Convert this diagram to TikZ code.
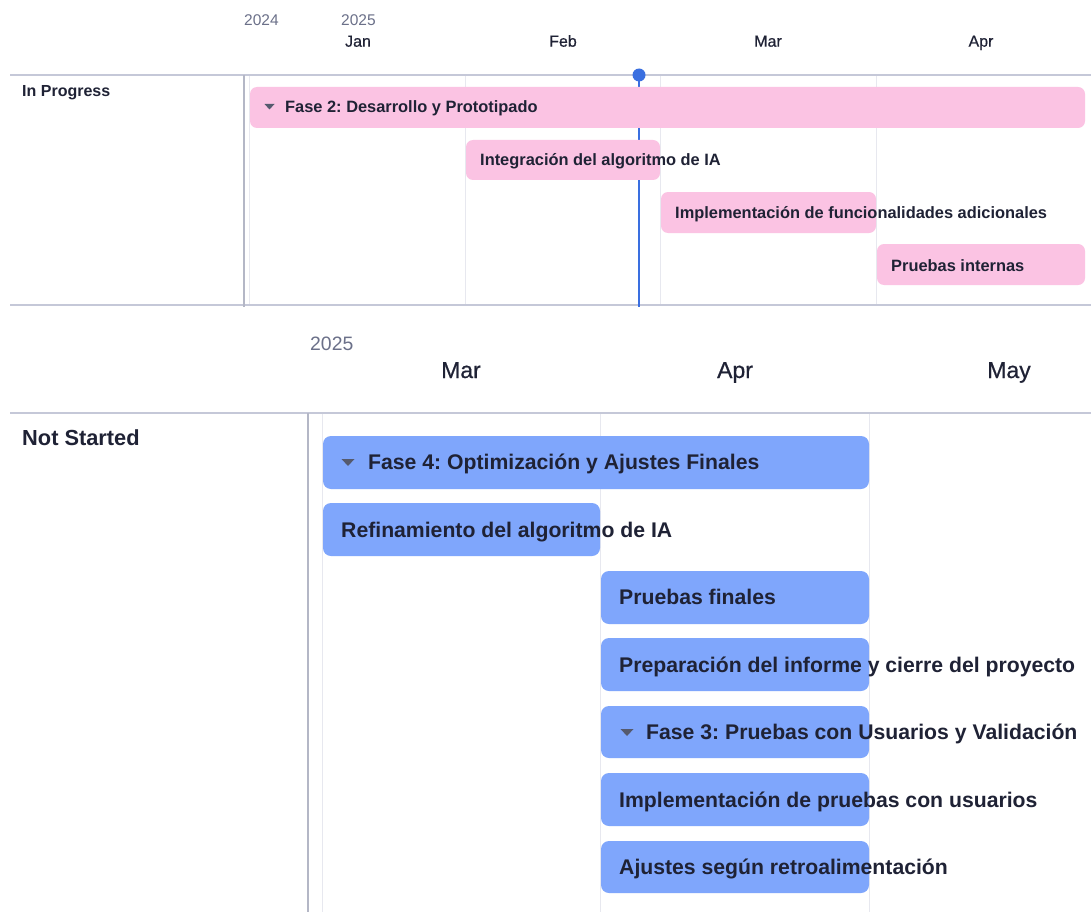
\documentclass[tikz,border=0pt]{standalone}
\usepackage{fontspec}
\setmainfont{Liberation Sans}
\newfontfamily\mediumfont[FakeBold=0.6]{Liberation Sans}
\frenchspacing
\definecolor{frame}{HTML}{C5C8D8}
\definecolor{axis}{HTML}{B4B7C6}
\definecolor{grid}{HTML}{E7E8EF}
\definecolor{ink}{HTML}{1F2235}
\definecolor{year}{HTML}{6B7089}
\definecolor{pinkbar}{HTML}{FBC3E3}
\definecolor{bluebar}{HTML}{7FA6FC}
\definecolor{today}{HTML}{3A6FE0}
\definecolor{caret}{HTML}{555A6E}
\tikzset{
  framel/.style={draw=frame, line width=1.2pt},
  axisl/.style={draw=axis, line width=1.4pt},
  gridl/.style={draw=grid, line width=1pt},
  pinkb/.style={fill=pinkbar, rounded corners=7pt},
  blueb/.style={fill=bluebar, rounded corners=8pt},
  lbl/.style={anchor=base west, inner sep=0pt, text=ink, font=\bfseries\fontsize{16.4}{18}\selectfont},
  lblbig/.style={anchor=base west, inner sep=0pt, text=ink, font=\bfseries\fontsize{21.2}{24}\selectfont},
  yr/.style={anchor=base west, inner sep=0pt, text=year, font=\fontsize{15.5}{17}\selectfont},
  yrbig/.style={anchor=base west, inner sep=0pt, text=year, font=\fontsize{19.4}{22}\selectfont},
  mon/.style={anchor=base, inner sep=0pt, text=ink, font=\mediumfont\fontsize{16}{18}\selectfont},
  monbig/.style={anchor=base, inner sep=0pt, text=ink, font=\mediumfont\fontsize{23}{26}\selectfont},
  caretf/.style={fill=caret},
}
\begin{document}
\begin{tikzpicture}[x=1pt,y=-1pt]
\useasboundingbox[fill=white] (0,0) rectangle (1091,912);

% ---------- upper chart: In Progress ----------
\node[yr] (y2024) at (244,25.5) {2024};
\node[yr] (y2025a) at (341,25.5) {2025};
\node[mon] (jan) at (358,46.7) {Jan};
\node[mon] (feb) at (563,46.7) {Feb};
\node[mon] (mar) at (768,46.7) {Mar};
\node[mon] (apr) at (981,46.7) {Apr};

\foreach \gx in {249,465,660,876} \draw[gridl] (\gx,75) -- (\gx,305);
\draw[framel] (10,75) -- (1091,75);
\draw[framel] (10,305) -- (1091,305);
\draw[axisl] (244,75) -- (244,307);

\node[lbl, font=\bfseries\fontsize{16}{18}\selectfont] (inprog) at (22,97) {In Progress};

% today marker
\draw[today, line width=2pt] (639,75) -- (639,307);
\fill[today] (639,75) circle (6.5);

\fill[pinkb] (250,87) rectangle (1085,128);
\fill[pinkb] (466,140) rectangle (660,180);
\fill[pinkb] (661,192) rectangle (876,233);
\fill[pinkb] (877,244) rectangle (1085,285);

\fill[caretf] (264.5,104) -- (274.5,104) -- (269.5,109.5) -- cycle;
\node[lbl] (fase2) at (285,113) {Fase 2: Desarrollo y Prototipado};
\node[lbl] (integ) at (480,166) {Integración del algoritmo de IA};
\node[lbl] (implf) at (675,218) {Implementación de funcionalidades adicionales};
\node[lbl] (pint) at (891,271) {Pruebas internas};

% ---------- lower chart: Not Started ----------
\node[yrbig] (y2025b) at (310,350) {2025};
\node[monbig] (mar2) at (461,378) {Mar};
\node[monbig] (apr2) at (735,378) {Apr};
\node[monbig] (may2) at (1009,378) {May};

\foreach \gx in {322,600,869} \draw[gridl] (\gx,413) -- (\gx,912);
\draw[framel] (10,413) -- (1091,413);
\draw[axisl] (308,413) -- (308,912);

\node[lblbig, font=\bfseries\fontsize{21.8}{25}\selectfont] (notst) at (22,445) {Not Started};

\fill[blueb] (323,436) rectangle (869,489);
\fill[blueb] (323,503) rectangle (600,556);
\fill[blueb] (601,571) rectangle (869,624);
\fill[blueb] (601,638) rectangle (869,691);
\fill[blueb] (601,706) rectangle (869,758);
\fill[blueb] (601,773) rectangle (869,826);
\fill[blueb] (601,841) rectangle (869,893);

\fill[caretf] (341.5,459) -- (354.5,459) -- (348,466) -- cycle;
\fill[caretf] (620.5,729) -- (633.5,729) -- (627,736) -- cycle;
\node[lblbig] (fase4) at (368,469.5) {Fase 4: Optimización y Ajustes Finales};
\node[lblbig] (refin) at (341,537.5) {Refinamiento del algoritmo de IA};
\node[lblbig] (pfin) at (619,604.5) {Pruebas finales};
\node[lblbig] (prep) at (619,672.5) {Preparación del informe y cierre del proyecto};
\node[lblbig] (fase3) at (646,739.5) {Fase 3: Pruebas con Usuarios y Validación};
\node[lblbig] (implu) at (619,807.5) {Implementación de pruebas con usuarios};
\node[lblbig] (ajust) at (619,874.5) {Ajustes según retroalimentación};
\end{tikzpicture}
\end{document}
